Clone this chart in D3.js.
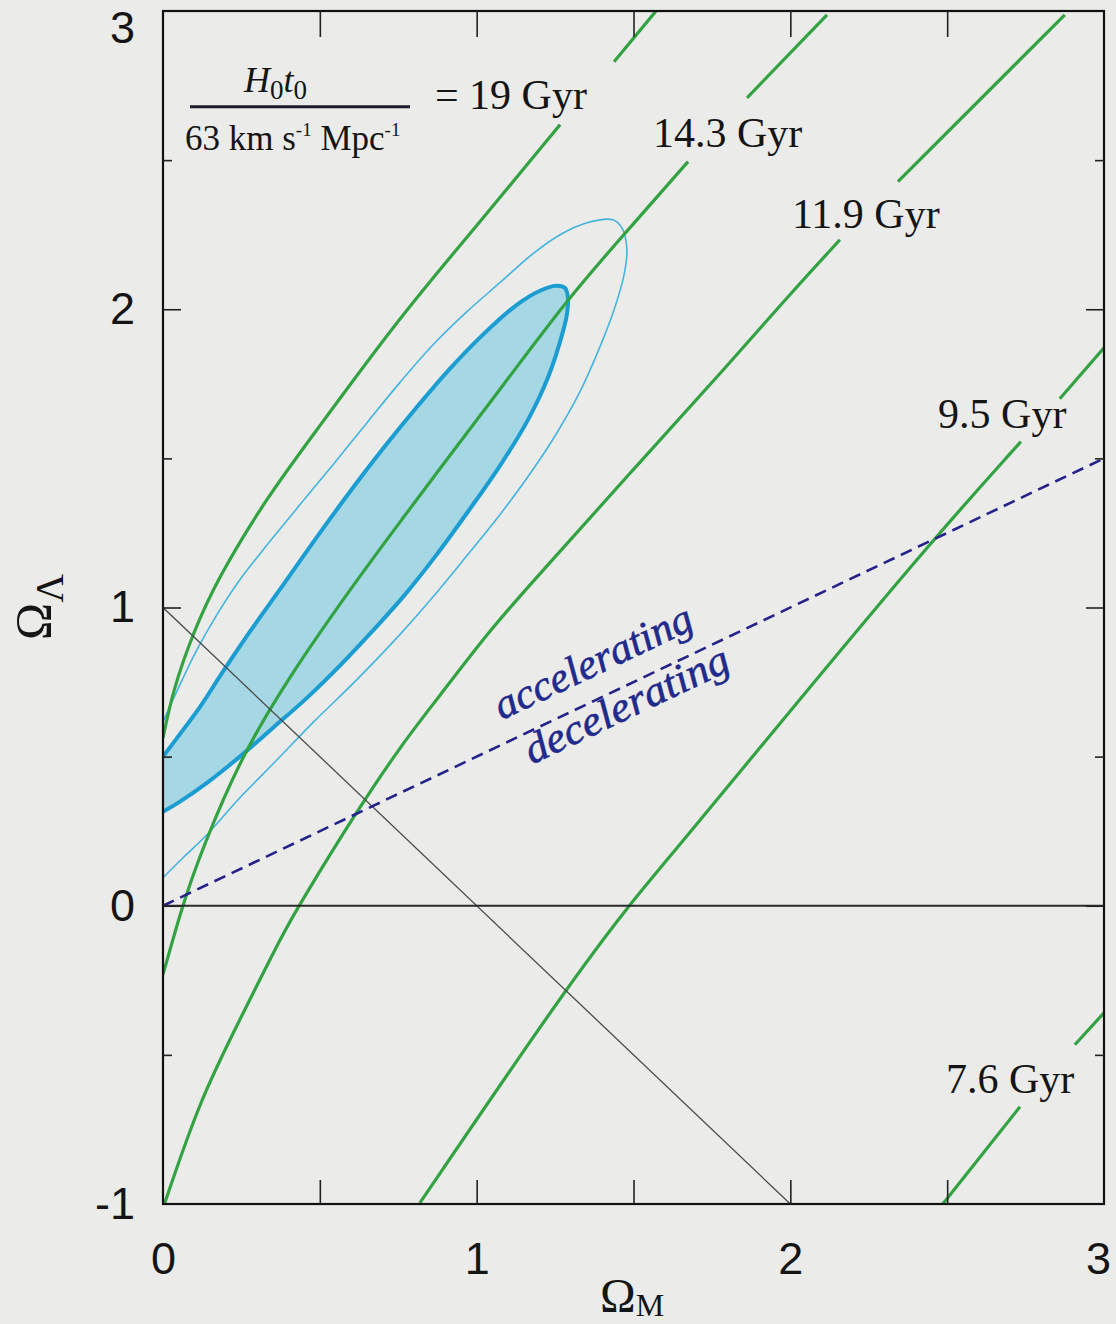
<!DOCTYPE html>
<html lang="en">
<head>
<meta charset="UTF-8">
<title>Age contours</title>
<script src="https://cdn.jsdelivr.net/npm/d3@7"></script>
<style>
body { margin: 0; background: #ebebe9; }
svg { display: block; }
.lab .tick text { font-family: "Liberation Sans", Arial, sans-serif; font-size: 45px; fill: #151515; }
.tk .tick line { stroke: #222; stroke-width: 1.6px; }
.serif { font-family: "Liberation Serif", "Times New Roman", serif; fill: #151515; }
</style>
</head>
<body>
<div id="chart"></div>
<script>
// constant-age curves [OmegaM, OmegaLambda], split where the label sits
var age19 = [
  [[0,0.563],[0.032,0.724],[0.096,0.915],[0.172,1.093],[0.332,1.371],[0.491,1.596],[0.755,1.975],[1.011,2.293],[1.266,2.619]],
  [[1.438,2.830],[1.575,3.004]]
];
var age143 = [
  [[0,-0.231],[0.064,0.010],[0.128,0.198],[0.245,0.490],[0.395,0.758],[0.618,1.093],[0.768,1.304],[0.896,1.485],[1.081,1.740],[1.288,2.032],[1.463,2.243],[1.674,2.495]],
  [[1.862,2.709],[2.117,2.987]]
];
var age119 = [
  [[0.006,-0.996],[0.118,-0.650],[0.245,-0.382],[0.383,-0.091],[0.437,0.007],[0.606,0.298],[0.765,0.547],[0.873,0.691],[1.042,0.925],[1.179,1.086],[1.498,1.462],[1.817,1.831],[1.983,2.032],[2.158,2.233]],
  [[2.343,2.428],[2.875,2.987]]
];
var age95 = [
  [[0.819,-0.996],[1.281,-0.282],[1.489,0.007],[1.616,0.164],[1.989,0.640],[2.451,1.224],[2.735,1.556]],
  [[2.859,1.700],[3.0,1.871]]
];
var age76 = [
  [[2.486,-1.0],[2.732,-0.674]],
  [[2.907,-0.466],[3.0,-0.359]]
];
var ageCurves = [age19, age143, age119, age95, age76];
var ageLabels = ["= 19 Gyr", "14.3 Gyr", "11.9 Gyr", "9.5 Gyr", "7.6 Gyr"];
var ageLabelAt = [[0.867,2.672],[1.562,2.545],[2.005,2.273],[2.471,1.603],[2.496,-0.627]];

// confidence contours (inner one is closed along the OmegaM = 0 axis)
var contour68 = [[0,0.500],[0.045,0.563],[0.118,0.667],[0.191,0.785],[0.277,0.919],[0.383,1.076],[0.491,1.237],[0.596,1.388],[0.701,1.532],[0.810,1.673],[0.915,1.801],[1.020,1.915],[1.128,2.015],[1.202,2.062],[1.253,2.079],[1.281,2.072],[1.291,2.039],[1.288,1.985],[1.275,1.925],[1.227,1.770],[1.164,1.630],[1.074,1.475],[0.972,1.321],[0.870,1.174],[0.768,1.039],[0.666,0.919],[0.564,0.805],[0.459,0.697],[0.351,0.597],[0.245,0.500],[0.140,0.412],[0.054,0.349],[0,0.315]];
var contour95 = [[0,0.617],[0.032,0.691],[0.064,0.764],[0.108,0.858],[0.172,0.976],[0.245,1.093],[0.332,1.210],[0.437,1.345],[0.542,1.479],[0.650,1.619],[0.755,1.754],[0.861,1.881],[0.969,1.992],[1.074,2.089],[1.179,2.186],[1.266,2.250],[1.352,2.290],[1.434,2.300],[1.463,2.273],[1.479,2.200],[1.470,2.116],[1.438,1.998],[1.393,1.874],[1.329,1.723],[1.256,1.586],[1.179,1.462],[1.074,1.311],[0.969,1.174],[0.861,1.036],[0.755,0.909],[0.618,0.758],[0.478,0.614],[0.351,0.476],[0.245,0.362],[0.140,0.238],[0.064,0.161],[0,0.094]];

// straight reference lines
var flatLine = [[0,1],[2,-1]];
var zeroLine = [[0,0],[3,0]];
var accelLine = [[0,0],[3,1.5]];
var regimeLabels = ["accelerating", "decelerating"];

// axes
var xLabelTicks = [0,1,2,3];
var yLabelTicks = [-1,0,1,2,3];
var xInTicks = [0.5,1,1.5,2,2.5];
var yMajorIn = [0,1,2];
var yMinorIn = [-0.5,0.5,1.5,2.5];

var width = 1116, height = 1324;
var x = d3.scaleLinear().domain([0,3]).range([163,1104]);
var y = d3.scaleLinear().domain([-1,3]).range([1204,11]);

var svg = d3.select("#chart").append("svg")
  .attr("width", width).attr("height", height);

svg.append("rect").attr("width", width).attr("height", height).attr("fill", "#ebebe9");

svg.append("clipPath").attr("id", "plotclip")
  .append("rect")
  .attr("x", x(0)).attr("y", y(3))
  .attr("width", x(3) - x(0)).attr("height", y(-1) - y(3));

var contourLine = d3.line().x(function(d){ return x(d[0]); }).y(function(d){ return y(d[1]); })
  .curve(d3.curveCatmullRom.alpha(0.5));
var ageLine = d3.line().x(function(d){ return x(d[0]); }).y(function(d){ return y(d[1]); })
  .curve(d3.curveBasis);
var straight = d3.line().x(function(d){ return x(d[0]); }).y(function(d){ return y(d[1]); });

var plot = svg.append("g").attr("clip-path", "url(#plotclip)");

// contours
plot.append("path").attr("d", contourLine(contour68) + "Z")
  .attr("fill", "#a6d7e4").attr("stroke", "none");
plot.append("path").attr("d", contourLine(contour95))
  .attr("fill", "none").attr("stroke", "#44b4de").attr("stroke-width", 1.6);
plot.append("path").attr("d", contourLine(contour68))
  .attr("fill", "none").attr("stroke", "#1c9dd2").attr("stroke-width", 4);

// age curves
ageCurves.forEach(function(segs){
  plot.selectAll(null).data(segs).enter().append("path")
    .attr("d", function(d){ return ageLine(d); })
    .attr("fill", "none")
    .attr("stroke", "#32a242")
    .attr("stroke-width", 3.2);
});

// reference lines
plot.append("path").attr("d", straight(flatLine))
  .attr("stroke", "#4a4a4a").attr("stroke-width", 1.3).attr("fill", "none");
plot.append("path").attr("d", straight(zeroLine))
  .attr("stroke", "#2a2a2a").attr("stroke-width", 1.8).attr("fill", "none");
plot.append("path").attr("d", straight(accelLine))
  .attr("stroke", "#25238a").attr("stroke-width", 2.6).attr("fill", "none")
  .attr("stroke-dasharray", "12,7");

// frame
svg.append("rect")
  .attr("x", x(0)).attr("y", y(3))
  .attr("width", x(3) - x(0)).attr("height", y(-1) - y(3))
  .attr("fill", "none").attr("stroke", "#111").attr("stroke-width", 2.2);

// inward ticks
function inTicks(axis, tx, ty){
  var g = svg.append("g").attr("class", "tk")
    .attr("transform", "translate(" + tx + "," + ty + ")")
    .call(axis);
  g.select(".domain").remove();
}
inTicks(d3.axisTop(x).tickValues(xInTicks).tickSize(24).tickFormat(""), 0, y(-1));
inTicks(d3.axisBottom(x).tickValues(xInTicks).tickSize(26).tickFormat(""), 0, y(3));
inTicks(d3.axisRight(y).tickValues(yMajorIn).tickSize(18).tickFormat(""), x(0), 0);
inTicks(d3.axisRight(y).tickValues(yMinorIn).tickSize(9).tickFormat(""), x(0), 0);
inTicks(d3.axisLeft(y).tickValues(yMajorIn).tickSize(18).tickFormat(""), x(3), 0);
inTicks(d3.axisLeft(y).tickValues(yMinorIn).tickSize(9).tickFormat(""), x(3), 0);

// tick labels
var xl = svg.append("g").attr("class", "lab")
  .attr("transform", "translate(0," + y(-1) + ")")
  .call(d3.axisBottom(x).tickValues(xLabelTicks).tickSize(0).tickPadding(38)
    .tickFormat(function(d){ return String(d); }));
xl.select(".domain").remove();
xl.selectAll(".tick text").filter(function(d){ return d === 3; }).attr("dx", "-6");

var yl = svg.append("g").attr("class", "lab")
  .attr("transform", "translate(" + x(0) + ",0)")
  .call(d3.axisLeft(y).tickValues(yLabelTicks).tickSize(0).tickPadding(28)
    .tickFormat(function(d){ return String(d); }));
yl.select(".domain").remove();
yl.selectAll(".tick text").filter(function(d){ return d === 3; }).attr("dy", "0.7em");

// axis titles
var xt = svg.append("text").attr("class", "serif")
  .attr("x", 600).attr("y", 1312).attr("font-size", 48);
xt.append("tspan").text("Ω");
xt.append("tspan").attr("font-size", 32).attr("dy", 4).text("M");

var yt = svg.append("text").attr("class", "serif")
  .attr("transform", "translate(50,640) rotate(-90)").attr("font-size", 50);
yt.append("tspan").text("Ω");
yt.append("tspan").attr("font-size", 40).attr("dy", 13).text("Λ");

// age labels
svg.selectAll(".agelab").data(ageLabels).enter().append("text")
  .attr("class", "serif agelab")
  .attr("x", function(d, i){ return x(ageLabelAt[i][0]); })
  .attr("y", function(d, i){ return y(ageLabelAt[i][1]); })
  .attr("font-size", 42)
  .text(function(d){ return d; });

// H0 t0 / 63 km s-1 Mpc-1
var fr = svg.append("g").attr("transform", "translate(" + x(0.086) + "," + y(2.679) + ")");
fr.append("line").attr("x1", 0).attr("x2", 220).attr("y1", 0).attr("y2", 0)
  .attr("stroke", "#1b1b2a").attr("stroke-width", 3.2);
var num = fr.append("text").attr("class", "serif").attr("x", 54).attr("y", -15).attr("font-size", 36);
num.append("tspan").attr("font-style", "italic").text("H");
num.append("tspan").attr("font-size", 27).attr("dy", 7).text("0");
num.append("tspan").attr("font-style", "italic").attr("dy", -7).text("t");
num.append("tspan").attr("font-size", 27).attr("dy", 7).text("0");
var den = fr.append("text").attr("class", "serif").attr("x", -5).attr("y", 43).attr("font-size", 35);
den.append("tspan").text("63 km s");
den.append("tspan").attr("font-size", 19).attr("dy", -14).text("-1");
den.append("tspan").attr("dy", 14).text(" Mpc");
den.append("tspan").attr("font-size", 19).attr("dy", -14).text("-1");

// accelerating / decelerating along the dashed line
var slope = (accelLine[1][1] - accelLine[0][1]) / (accelLine[1][0] - accelLine[0][0]);
var ang = Math.atan2(y(accelLine[1][1]) - y(accelLine[0][1]), x(accelLine[1][0]) - x(accelLine[0][0])) * 180 / Math.PI;
var regimeAt = [1.11, 1.134];
var regimeOff = [-22, 31];
var regimeLen = [215, 222];
regimeLabels.forEach(function(t, i){
  var m = regimeAt[i];
  svg.append("g")
    .attr("transform", "translate(" + x(m) + "," + y(m * slope) + ") rotate(" + ang + ")")
    .append("text")
    .attr("y", regimeOff[i])
    .attr("font-family", "'Liberation Serif', serif")
    .attr("font-style", "italic")
    .attr("font-size", 42)
    .attr("fill", "#1f2a8c")
    .attr("stroke", "#1f2a8c")
    .attr("stroke-width", 0.6)
    .attr("textLength", regimeLen[i])
    .attr("lengthAdjust", "spacingAndGlyphs")
    .text(t);
});
</script>
</body>
</html>
